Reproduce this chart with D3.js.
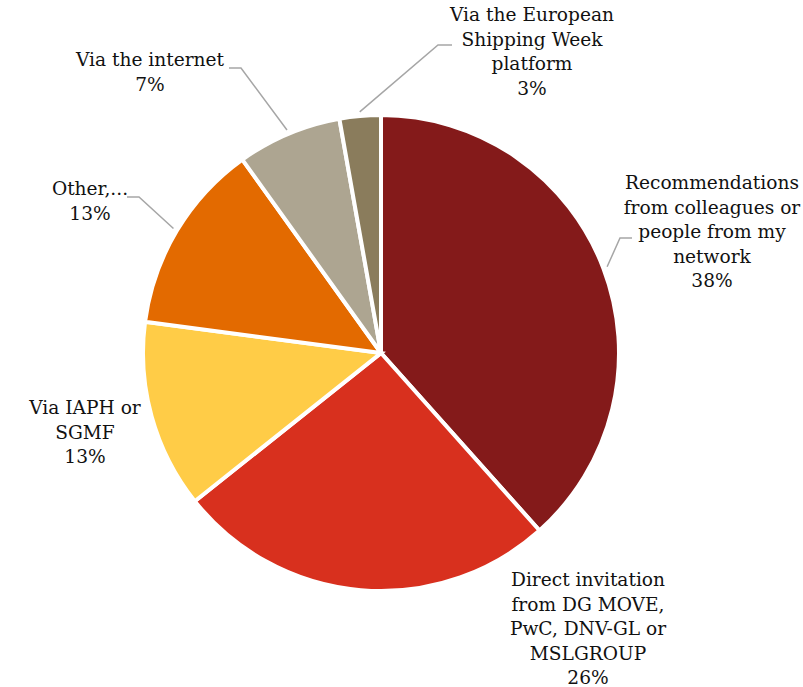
<!DOCTYPE html>
<html>
<head>
<meta charset="utf-8">
<script src="https://cdn.jsdelivr.net/npm/d3@7"></script>
<style>
  body { margin: 0; background: #fff; }
  svg { display: block; }
  text { font-family: "DejaVu Serif", "Liberation Serif", serif; fill: #111; }
</style>
</head>
<body>
<svg width="803" height="687"></svg>
<script>
// Chart data (share of respondents)
const categories = [
  "Recommendations from colleagues or people from my network",
  "Direct invitation from DG MOVE, PwC, DNV-GL or MSLGROUP",
  "Via IAPH or SGMF",
  "Other,...",
  "Via the internet",
  "Via the European Shipping Week platform"
];
const values = [38.4, 25.9, 12.8, 13.0, 7.1, 2.8];
const colors = ["#841A1A", "#D8301E", "#FFCC47", "#E36A00", "#ADA591", "#8A7C5C"];

// Label lines as shown in the chart
const labelLines = [
  ["Recommendations", "from colleagues or", "people from my", "network"],
  ["Direct invitation", "from DG MOVE,", "PwC, DNV-GL or", "MSLGROUP"],
  ["Via IAPH or", "SGMF"],
  ["Other,..."],
  ["Via the internet"],
  ["Via the European", "Shipping Week", "platform"]
];

const width = 803, height = 687;
const cx = 381, cy = 353, radius = 238;
const lineH = 24.5;

// label block: x center, y of first line, leader elbow and end
const labelLayout = [
  { x: 712, y: 189, leader: true, elbow: [620, 238], end: [632, 238] },
  { x: 588, y: 586, leader: false },
  { x: 85, y: 414, leader: false },
  { x: 90, y: 195, leader: true, elbow: [139, 197], end: [127, 197] },
  { x: 150, y: 66, leader: true, elbow: [241, 68], end: [229, 68] },
  { x: 532, y: 21, leader: true, elbow: [438, 45], end: [452, 45] }
];

const svg = d3.select("svg");
const g = svg.append("g").attr("transform", `translate(${cx},${cy})`);

const pie = d3.pie().sort(null).value(d => d)(values);
const arc = d3.arc().innerRadius(0).outerRadius(radius);
const outer = d3.arc().innerRadius(radius + 4).outerRadius(radius + 4);

g.selectAll("path.slice")
  .data(pie)
  .enter()
  .append("path")
  .attr("class", "slice")
  .attr("d", arc)
  .attr("fill", (d, i) => colors[i])
  .attr("stroke", "#fff")
  .attr("stroke-width", 4)
  .attr("stroke-linejoin", "miter");

// leader lines
const fmt = d3.format(".0f");
pie.forEach((d, i) => {
  const L = labelLayout[i];
  if (!L.leader) return;
  const p = outer.centroid(d);
  const pts = [[p[0] + cx, p[1] + cy], L.elbow, L.end];
  svg.append("polyline")
    .attr("points", pts.map(q => q.join(",")).join(" "))
    .attr("fill", "none")
    .attr("stroke", "#A6A6A6")
    .attr("stroke-width", 1.5);
});

// labels
pie.forEach((d, i) => {
  const L = labelLayout[i];
  const lines = labelLines[i].concat([fmt(values[i]) + "%"]);
  const t = svg.append("text")
    .attr("text-anchor", "middle")
    .attr("font-size", 18.6);
  lines.forEach((s, k) => {
    t.append("tspan")
      .attr("x", L.x)
      .attr("y", L.y + k * lineH)
      .text(s);
  });
});
</script>
</body>
</html>
